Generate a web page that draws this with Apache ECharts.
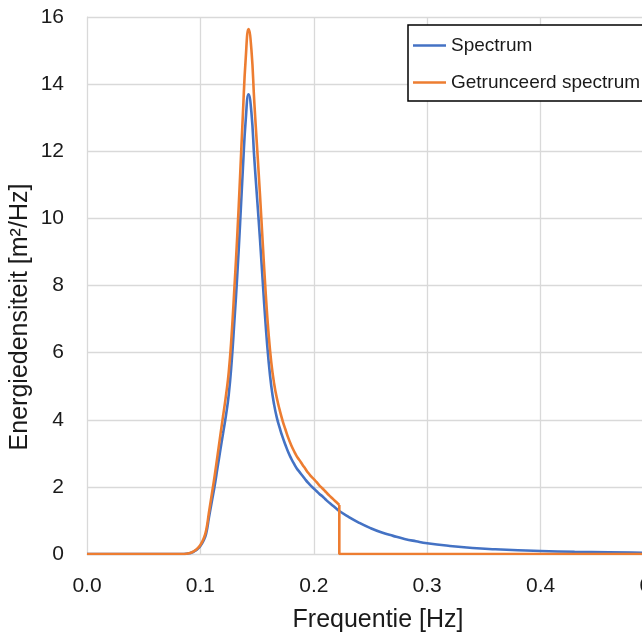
<!DOCTYPE html>
<html>
<head>
<meta charset="utf-8">
<script src="https://cdn.jsdelivr.net/npm/echarts@6/dist/echarts.min.js"></script>
<style>
html,body{margin:0;padding:0;background:#fff;}
#chart{width:642px;height:639px;}
</style>
</head>
<body>
<div id="chart"></div>
<script>
// Frequencies [Hz] and energy density [m²/Hz]
const freq = [0, 0.05, 0.08, 0.085, 0.0875, 0.09, 0.0925, 0.095, 0.0975, 0.10, 0.1025, 0.105, 0.1075, 0.11, 0.1125, 0.115, 0.1175, 0.12, 0.1225, 0.125, 0.1275, 0.13, 0.1325, 0.135, 0.1375, 0.14, 0.1425, 0.145, 0.1475, 0.15, 0.1525, 0.155, 0.1575, 0.16, 0.1625, 0.165, 0.1675, 0.17, 0.1725, 0.175, 0.1775, 0.18, 0.1825, 0.185, 0.1875, 0.19, 0.1925, 0.195, 0.1975, 0.20, 0.2025, 0.205, 0.2075, 0.21, 0.2125, 0.215, 0.2175, 0.22, 0.2225, 0.23, 0.24, 0.25, 0.26, 0.27, 0.28, 0.29, 0.30, 0.32, 0.34, 0.36, 0.38, 0.40, 0.43, 0.46, 0.50, 0.55];
const spectrum = [0, 0, 0, 0, 0.005, 0.02, 0.045, 0.09, 0.15, 0.24, 0.38, 0.6, 1.08, 1.55, 2.02, 2.55, 3.08, 3.6, 4.12, 4.75, 5.7, 6.95, 8.3, 9.85, 11.5, 12.95, 13.7, 13.15, 11.8, 10.6, 9.4, 8.1, 6.85, 5.8, 5.0, 4.45, 4.05, 3.75, 3.48, 3.25, 3.03, 2.85, 2.69, 2.55, 2.44, 2.33, 2.22, 2.12, 2.03, 1.95, 1.87, 1.79, 1.72, 1.64, 1.56, 1.49, 1.42, 1.35, 1.28, 1.12, 0.93, 0.77, 0.64, 0.54, 0.45, 0.38, 0.32, 0.24, 0.18, 0.14, 0.11, 0.09, 0.065, 0.05, 0.035, 0.02];

const truncFreq = [0, 0.05, 0.08, 0.085, 0.0875, 0.09, 0.0925, 0.095, 0.0975, 0.10, 0.1025, 0.105, 0.1075, 0.11, 0.1125, 0.115, 0.1175, 0.12, 0.1225, 0.125, 0.1275, 0.13, 0.1325, 0.135, 0.1375, 0.14, 0.1425, 0.145, 0.1475, 0.15, 0.1525, 0.155, 0.1575, 0.16, 0.1625, 0.165, 0.1675, 0.17, 0.1725, 0.175, 0.1775, 0.18, 0.1825, 0.185, 0.1875, 0.19, 0.1925, 0.195, 0.1975, 0.20, 0.2025, 0.205, 0.2075, 0.21, 0.2125, 0.215, 0.2175, 0.22, 0.2225];
const truncSpectrum = [0, 0, 0, 0, 0.006, 0.023, 0.051, 0.10, 0.17, 0.27, 0.43, 0.69, 1.23, 1.77, 2.31, 2.91, 3.52, 4.11, 4.71, 5.42, 6.51, 7.94, 9.48, 11.25, 13.13, 14.79, 15.64, 15.02, 13.48, 12.11, 10.73, 9.25, 7.82, 6.62, 5.71, 5.08, 4.63, 4.28, 3.97, 3.71, 3.46, 3.25, 3.07, 2.91, 2.79, 2.66, 2.54, 2.42, 2.32, 2.23, 2.14, 2.04, 1.96, 1.87, 1.78, 1.70, 1.62, 1.54, 1.46];
// after the cut-off the truncated spectrum is zero
const cutFreq = [0.2225, 0.2225, 0.55];
const cutLevel = [1.46, 0, 0];

const xTicks = { min: 0, max: 0.5, interval: 0.1 };
const yTicks = { min: 0, max: 16, interval: 2 };

const seriesNames = ['Spectrum', 'Getrunceerd spectrum'];
const colors = ['#4472C4', '#ED7D31'];

const FONT = 'Liberation Sans';
const TXT = '#1a1a1a';

const chart = echarts.init(document.getElementById('chart'), null, { renderer: 'canvas' });

const zip = (xs, ys) => xs.map((x, i) => [x, ys[i]]);

chart.setOption({
  animation: false,
  backgroundColor: '#fff',
  grid: { left: 87, top: 17, width: 567, height: 537, containLabel: false, outerBoundsMode: 'none' },
  legend: {
    data: seriesNames,
    orient: 'vertical',
    left: 408, top: 25,
    padding: [11, 60, 9, 5],
    icon: 'rect',
    itemWidth: 33, itemHeight: 2.6, itemGap: 18,
    borderColor: '#000', borderWidth: 1.5, borderRadius: 0,
    backgroundColor: '#fff',
    textStyle: { fontFamily: FONT, fontSize: 19, color: TXT, lineHeight: 19 }
  },
  xAxis: {
    type: 'value', min: xTicks.min, max: xTicks.max, interval: xTicks.interval,
    name: 'Frequentie [Hz]', nameLocation: 'middle', nameGap: 54,
    nameTextStyle: { fontFamily: FONT, fontSize: 25, color: TXT, padding: [0, 0, 0, 15] },
    axisLine: { show: true, lineStyle: { color: '#d9d9d9', width: 1 } },
    axisTick: { show: false },
    axisLabel: { fontFamily: FONT, fontSize: 21, color: TXT, margin: 22, formatter: v => v.toFixed(1) },
    splitLine: { show: true, lineStyle: { color: '#d9d9d9', width: 1.3 } }
  },
  yAxis: {
    type: 'value', min: yTicks.min, max: yTicks.max, interval: yTicks.interval,
    axisLine: { show: true, lineStyle: { color: '#d9d9d9', width: 1 } },
    axisTick: { show: false },
    axisLabel: { fontFamily: FONT, fontSize: 21, color: TXT, margin: 23 },
    splitLine: { show: true, lineStyle: { color: '#d9d9d9', width: 1.3 } }
  },
  graphic: [{
    type: 'text', x: 20, y: 317, rotation: Math.PI / 2,
    style: { text: 'Energiedensiteit [m²/Hz]', font: '25px "Liberation Sans"', fill: TXT, textAlign: 'center', textVerticalAlign: 'middle' }
  }],
  series: [
    {
      name: seriesNames[0], type: 'line', data: zip(freq, spectrum),
      smooth: true, showSymbol: false, symbol: 'none',
      lineStyle: { color: colors[0], width: 2.6 }, itemStyle: { color: colors[0] }, z: 2
    },
    {
      name: seriesNames[1], type: 'line', data: zip(truncFreq, truncSpectrum),
      smooth: true, showSymbol: false, symbol: 'none',
      lineStyle: { color: colors[1], width: 2.6 }, itemStyle: { color: colors[1] }, z: 3
    },
    {
      name: seriesNames[1], type: 'line', data: zip(cutFreq, cutLevel),
      smooth: false, showSymbol: false, symbol: 'none',
      lineStyle: { color: colors[1], width: 2.6 }, itemStyle: { color: colors[1] }, z: 3
    }
  ]
});
</script>
</body>
</html>
